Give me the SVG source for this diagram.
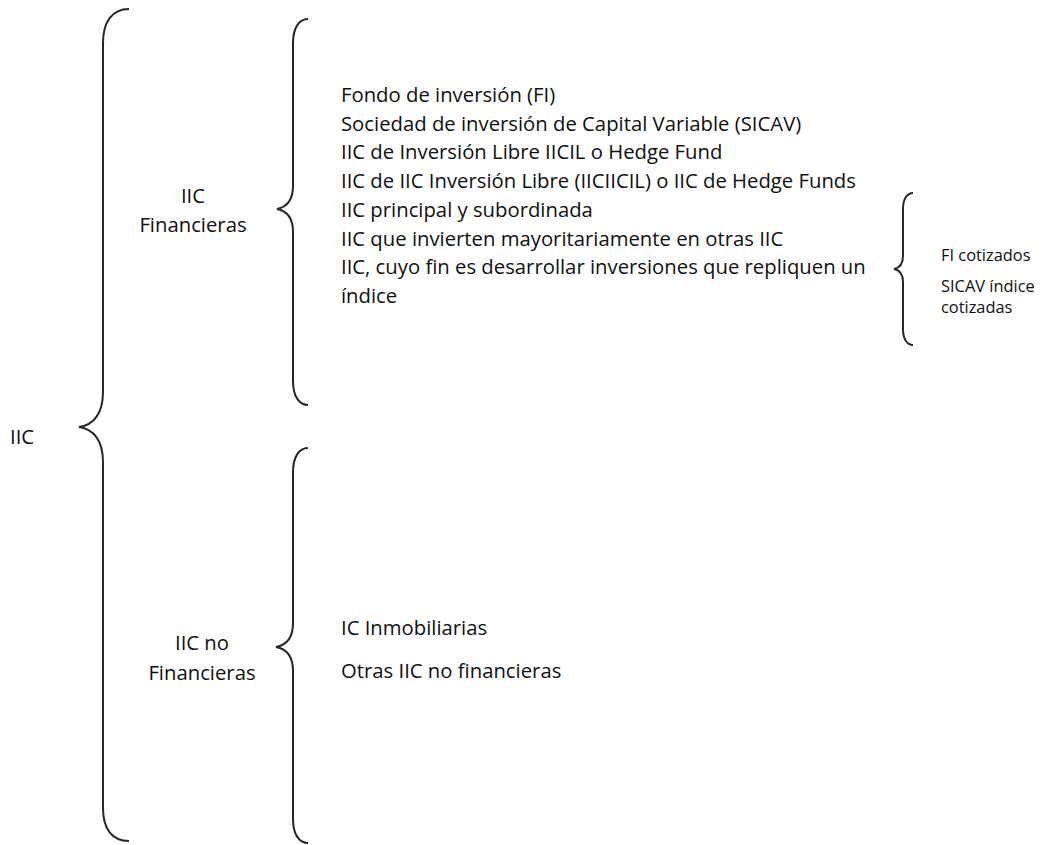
<svg xmlns="http://www.w3.org/2000/svg" width="1044" height="845" viewBox="0 0 1044 845">
<style>
.br{fill:none;stroke:#262626;stroke-width:2}
.t{font-family:"Open Sans","Noto Sans",sans-serif;font-size:20.3px;fill:#111}
.s{font-family:"Open Sans","Noto Sans",sans-serif;font-size:16.4px;fill:#111}
.c{text-anchor:middle}
</style>
<rect width="1044" height="845" fill="#fff"/>
<g id="connectors">
<path class="br" d="M129,9 C112,9 103,22 103,43 L103,392 C103,413 94,425 79,427 C94,429 103,441 103,462 L103,808 C103,829 112,841 129,841"/>
<path class="br" d="M308,19 C299,19 293,28 293,43 L293,186 C293,200 287,207 277,209 C287,211 293,218 293,232 L293,381 C293,396 299,405 308,405"/>
<path class="br" d="M308,448 C299,448 293,457 293,472 L293,623 C293,637 287,645 276,647 C287,649 293,657 293,671 L293,819 C293,834 299,843 308,843"/>
<path class="br" d="M913,193 C907,193 903,199 903,209 L903,256 C903,264 899,268 894,269 C899,270 903,274 903,282 L903,329 C903,339 907,345 913,345"/>
</g>
<g id="iic"><text class="t" x="10" y="444">IIC</text></g>
<g id="iic-financieras"><text class="t c" x="193" y="203">IIC</text><text class="t c" x="193" y="232">Financieras</text></g>
<g id="iic-no-financieras"><text class="t c" x="202" y="650">IIC no</text><text class="t c" x="202" y="680">Financieras</text></g>
<g id="financieras-list">
<text class="t" x="341" y="102">Fondo de inversión (FI)</text>
<text class="t" x="341" y="130.7">Sociedad de inversión de Capital Variable (SICAV)</text>
<text class="t" x="341" y="159.4">IIC de Inversión Libre IICIL o Hedge Fund</text>
<text class="t" x="341" y="188.1">IIC de IIC Inversión Libre (IICIICIL) o IIC de Hedge Funds</text>
<text class="t" x="341" y="216.8">IIC principal y subordinada</text>
<text class="t" x="341" y="245.5">IIC que invierten mayoritariamente en otras IIC</text>
<text class="t" x="341" y="274.2">IIC, cuyo fin es desarrollar inversiones que repliquen un</text>
<text class="t" x="341" y="302.9">índice</text>
</g>
<g id="indice-list">
<text class="s" x="941" y="261">FI cotizados</text>
<text class="s" x="941" y="292">SICAV índice</text>
<text class="s" x="941" y="313">cotizadas</text>
</g>
<g id="no-financieras-list">
<text class="t" x="341" y="635">IC Inmobiliarias</text>
<text class="t" x="341" y="678">Otras IIC no financieras</text>
</g>
</svg>
